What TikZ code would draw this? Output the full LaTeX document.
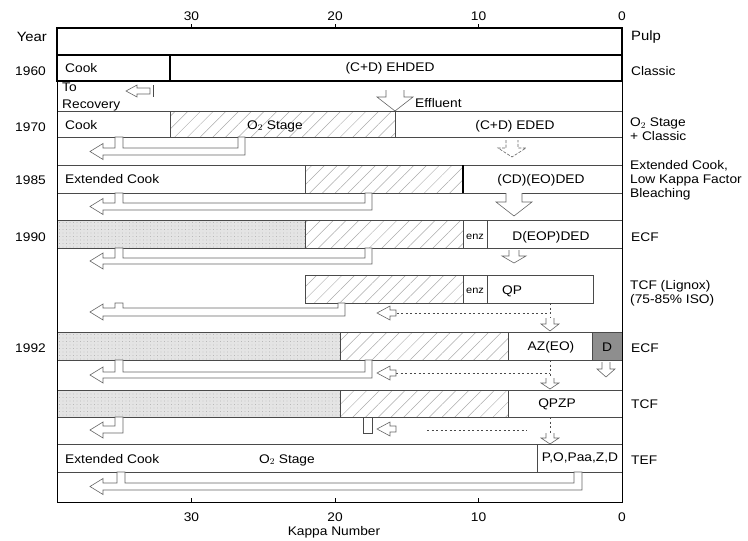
\documentclass[tikz,border=0pt]{standalone}
\usepackage{fontspec}
\setmainfont{Liberation Sans}[FakeStretch=1.1]
\usetikzlibrary{patterns.meta}
\definecolor{RuleInk}{HTML}{4A4A4A}
\definecolor{PulpGrey}{HTML}{E4E4E4}
\definecolor{HatchGrey}{HTML}{ABABAB}
\definecolor{DBox}{HTML}{8E8E8E}

% return pipe: row bottom, pipe top, pipe bottom, riser x, end outer x, end inner x
\newcommand{\backpipe}[6]{%
  \draw[retpipe] (90,{(#2+#3)/2}) -- (103,{(#2+#3)/2-8}) -- (103,#2) -- (#4,#2)
    -- (#4,#1) -- ({#4+8},#1) -- ({#4+8},#2) -- (#6,#2) -- (#6,#1) -- (#5,#1)
    -- (#5,#3) -- (103,#3) -- (103,{(#2+#3)/2+8}) -- cycle;}
% hollow down arrow: x, top, head y, tip y, half body, half head
\newcommand{\dnarrow}[7][]{%
  \draw[retpipe,#1] ({#2-#6},#3) -- ({#2-#6},#4) -- ({#2-#7},#4) -- (#2,#5)
    -- ({#2+#7},#4) -- ({#2+#6},#4) -- ({#2+#6},#3);}
% small hollow head pointing left: tip x, y
\newcommand{\backhead}[2]{%
  \draw[retpipe] (#1,#2) -- ({#1+13},{#2-7}) -- ({#1+13},{#2-3}) -- ({#1+19},{#2-3})
    -- ({#1+19},{#2+3}) -- ({#1+13},{#2+3}) -- ({#1+13},{#2+7}) -- cycle;}

\begin{document}
\begin{tikzpicture}[x=1pt, y=-1pt,
  rule/.style={draw=RuleInk, line width=0.6pt},
  bold/.style={draw=black, line width=1.1pt},
  hatched/.style={pattern={Lines[angle=45,distance=9pt,line width=0.5pt]},
                  pattern color=HatchGrey},
  pulp/.style={fill=PulpGrey, postaction={pattern={Dots[distance=3.5pt,radius=0.35pt]},
               pattern color=gray!75}},
  retpipe/.style={draw=RuleInk!85, line width=0.6pt, fill=white},
  flow/.style={draw=RuleInk, line width=0.7pt, dash pattern=on 2pt off 2.5pt},
  txt/.style={font=\fontsize{12.5}{14}\selectfont, inner sep=1pt},
  small/.style={font=\fontsize{10}{12}\selectfont, inner sep=1pt},
  side/.style={txt, anchor=west, align=left},
  year/.style={txt, anchor=east}]

\useasboundingbox (0,0) rectangle (748,541);

% shaded stages
\fill[pulp] (57,220) rectangle (305,248);
\fill[pulp] (57,332) rectangle (340,360);
\fill[pulp] (57,390) rectangle (340,417);
\fill[hatched] (170,111) rectangle (395,137);
\fill[hatched] (305,165) rectangle (463,193);
\fill[hatched] (305,220) rectangle (463,248);
\fill[hatched] (305,275) rectangle (463,303);
\fill[hatched] (340,332) rectangle (508,360);
\fill[hatched] (340,390) rectangle (508,417);
\fill[DBox] (592,332) rectangle (622,360);

% rows
\draw[bold] (57,28) rectangle (622,55);
\draw[bold] (57,55) rectangle (622,81);
\draw[bold] (170,55) -- (170,81);
\draw[rule] (57,111) rectangle (622,137);
\draw[rule] (170,111) -- (170,137);
\draw[rule] (57,165) rectangle (622,193);
\draw[rule] (305,165) -- (305,193);
\draw[draw=black, line width=1.4pt] (463,165) -- (463,193);
\draw[rule] (57,220) rectangle (622,248);
\draw[rule] (305,220) -- (305,248) (463,220) -- (463,248) (487,220) -- (487,248);
\draw[rule] (305,275) rectangle (593,303);
\draw[rule] (463,275) -- (463,303) (487,275) -- (487,303);
\draw[rule] (57,332) rectangle (622,360);
\draw[rule] (340,332) -- (340,360) (508,332) -- (508,360) (592,332) -- (592,360);
\draw[rule] (57,390) rectangle (622,417);
\draw[rule] (340,390) -- (340,417) (508,390) -- (508,417);
\draw[rule] (57,444) rectangle (622,472);
\draw[rule] (537,444) -- (537,472);

% frame and kappa scale
\draw[line width=0.8pt] (57,28) -- (57,502) -- (622,502) -- (622,28);
\foreach \k in {30,20,10} {
  \draw[line width=0.8pt] ({622-14.35*\k},28) -- ({622-14.35*\k},24);
  \draw[line width=0.8pt] ({622-14.35*\k},502) -- ({622-14.35*\k},498);
  \node[txt] (top\k) at ({622-14.35*\k},16) {\k};
  \node[txt] (bot\k) at ({622-14.35*\k},517) {\k};
}
\node[txt] (top0) at (622,16) {0};
\node[txt] (bot0) at (622,517) {0};
\node[txt] (kappa) at (334,532) {Kappa Number};

% recovery and effluent
\draw[retpipe] (126,91) -- (137,85) -- (137,88) -- (150,88) -- (150,94) -- (137,94)
  -- (137,97) -- cycle;
\draw[rule] (153,85) -- (153,97);
\dnarrow{395}{90}{97}{111}{9}{18}
\draw[rule] (395,111) -- (395,137);

% return pipes
\backpipe{137}{148}{155}{115}{245}{238}
\backpipe{193}{203}{210}{115}{372}{365}
\backpipe{248}{258}{264}{115}{372}{365}
\backpipe{303}{308}{316}{115}{345}{338}
\backpipe{360}{372}{378}{115}{372}{365}
\draw[retpipe] (90,430) -- (103,422) -- (103,426) -- (115,426) -- (115,417) -- (123,417)
  -- (123,433) -- (103,433) -- (103,438) -- cycle;
\draw[rule] (363,417) -- (363,433) -- (372,433) -- (372,417);
\backpipe{472}{483}{490}{117}{582}{574}

% dashed carry-overs
\draw[flow] (550,303) -- (550,318);
\draw[flow] (392,313) -- (550,313);
\backhead{377}{313}
\draw[flow] (550,360) -- (550,378);
\draw[flow] (396,373) -- (550,373);
\backhead{377}{373}
\draw[flow] (550,417) -- (550,433);
\draw[flow] (427,430) -- (527,430);
\backhead{377}{429}

% down arrows
\dnarrow[dash pattern=on 3pt off 1.5pt]{512}{140}{148}{157}{6}{14}
\dnarrow{514}{193}{202}{216}{8}{18}
\dnarrow{514}{250}{256}{263}{5}{12}
\dnarrow{550}{318}{324}{331}{4}{9}
\dnarrow{550}{378}{383}{389}{4}{9}
\dnarrow{606}{362}{369}{377}{4}{9}
\dnarrow{550}{433}{438}{444}{4}{9}

% texts in the rows
\node[txt, anchor=west] (cook60) at (64,68) {Cook};
\node[txt] (ehded) at (390,68) {(C+D) EHDED};
\node[txt, anchor=west] (to) at (61,87) {To};
\node[txt, anchor=west] (recov) at (61,105) {Recovery};
\node[txt, anchor=west] (efflu) at (414,103) {Effluent};
\node[txt, anchor=west] (cook70) at (64,125) {Cook};
\node[txt] (oxy70) at (275,126) {O$_2$ Stage};
\node[txt] (eded) at (515,126) {(C+D) EDED};
\node[txt, anchor=west] (ext85) at (64,179) {Extended Cook};
\node[txt] (cdeo) at (541,180) {(CD)(EO)DED};
\node[small] (enz90) at (475,237) {enz};
\node[txt] (deop) at (551,237) {D(EOP)DED};
\node[small] (enzqp) at (475,291) {enz};
\node[txt] (qp) at (512,291) {QP};
\node[txt] (azeo) at (551,347) {AZ(EO)};
\node[txt] (dstage) at (607,347) {D};
\node[txt] (qpzp) at (557,404) {QPZP};
\node[txt, anchor=west] (extTEF) at (64,459) {Extended Cook};
\node[txt] (oxyTEF) at (287,460) {O$_2$ Stage};
\node[txt] (poz) at (580,458) {P,O,Paa,Z,D};

% year labels
\node[txt, font=\fontsize{13.5}{15}\selectfont, anchor=east] (yr) at (48,37) {Year};
\node[year] (y60) at (47,71) {1960};
\node[year] (y70) at (47,127) {1970};
\node[year] (y85) at (47,180) {1985};
\node[year] (y90) at (47,237) {1990};
\node[year] (y92) at (47,348) {1992};

% pulp labels
\node[side, font=\fontsize{13.5}{15}\selectfont] (pulp) at (630,37) {Pulp};
\node[side] (classic) at (630,71) {Classic};
\node[side] (oxycl) at (629,129) {O$_2$ Stage\\+ Classic};
\node[side] (lowkf) at (629,180) {Extended Cook,\\Low Kappa Factor\\Bleaching};
\node[side] (ecf90) at (630,237) {ECF};
\node[side] (lignox) at (629,293) {TCF (Lignox)\\(75-85\% ISO)};
\node[side] (ecf92) at (630,348) {ECF};
\node[side] (tcf) at (630,404) {TCF};
\node[side] (tef) at (630,460) {TEF};
\end{tikzpicture}
\end{document}
